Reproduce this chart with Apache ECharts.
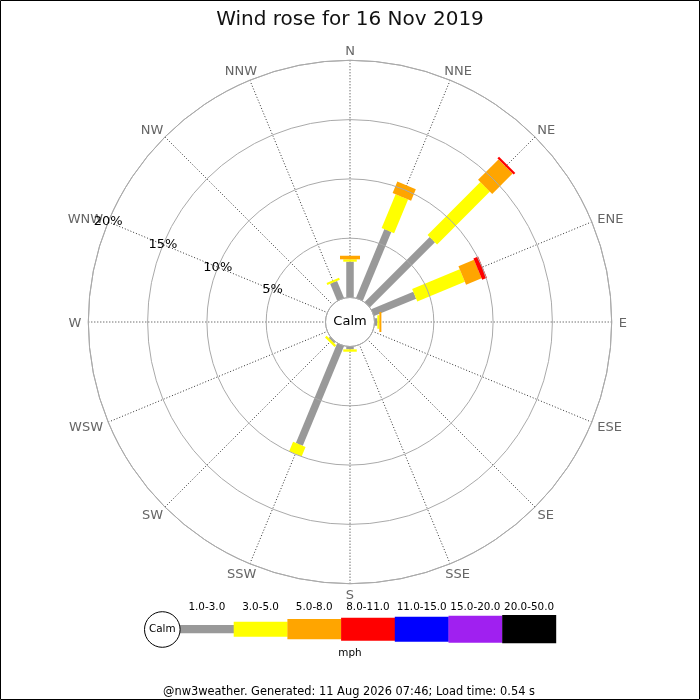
<!DOCTYPE html>
<html>
<head>
<meta charset="utf-8">
<script src="https://cdn.jsdelivr.net/npm/echarts@6/dist/echarts.min.js"></script>
<style>html,body{margin:0;padding:0;background:#fff}#c{width:700px;height:700px}</style>
</head>
<body>
<div id="c"></div>
<script>
// ---- data ----
const directions = ['N','NNE','NE','ENE','E','ESE','SE','SSE','S','SSW','SW','WSW','W','WNW','NW','NNW'];
const radiusTicks = [5, 10, 15, 20];
const binLabels = ['1.0-3.0','3.0-5.0','5.0-8.0','8.0-11.0','11.0-15.0','15.0-20.0','20.0-50.0'];
// percentage of time per direction, per speed bin (mph)
const speed_1_3   = [3.02, 6.28, 7.75, 3.84, 0.24, 0, 0, 0, 0.24, 9.10, 0.15, 0, 0, 0, 0, 1.55];
const speed_3_5   = [0.20, 3.08, 6.30, 4.34, 0.17, 0, 0, 0, 0.20, 0.87, 0.20, 0, 0, 0, 0, 0.18];
const speed_5_8   = [0.30, 1.04, 2.43, 1.42, 0.17, 0, 0, 0, 0,    0,    0,    0, 0, 0, 0, 0];
const speed_8_11  = [0,    0,    0.20, 0.43, 0,    0, 0, 0, 0,    0,    0,    0, 0, 0, 0, 0];
const speed_11_15 = [0,0,0,0,0,0,0,0,0,0,0,0,0,0,0,0];
const speed_15_20 = [0,0,0,0,0,0,0,0,0,0,0,0,0,0,0,0];
const speed_20_50 = [0,0,0,0,0,0,0,0,0,0,0,0,0,0,0,0];
const bins = [speed_1_3, speed_3_5, speed_5_8, speed_8_11, speed_11_15, speed_15_20, speed_20_50];

// ---- styles ----
const binColors = ['#999999','#ffff00','#ffa500','#ff0000','#0000ff','#a020f0','#000000'];
const barWidths = [7.5, 13.5, 20, 23, 25, 27, 29];
const legendWidths = [8.3, 15, 20.3, 23, 25, 27, 28.3];
const FONT = 'DejaVu Sans';

// angle axis: value in compass degrees, starting at WNW (292.5) so radius labels lie along WNW
const ANG_MIN = 292.5;
function dirAngle(i){ let a = i * 22.5; if (a < ANG_MIN) a += 360; return a; }

const series = [];
const cum = directions.map(() => 0);
bins.forEach((vals, b) => {
  const data = [];
  vals.forEach((v, i) => {
    const s = cum[i], e = cum[i] + v;
    cum[i] = e;
    if (v > 0) data.push([s, dirAngle(i), e]);
  });
  const w = barWidths[b], col = binColors[b];
  series.push({
    type: 'custom',
    coordinateSystem: 'polar',
    name: binLabels[b],
    silent: true,
    animation: false,
    data: data,
    renderItem: function(params, api){
      const s = api.value(0), a = api.value(1), e = api.value(2);
      const p0 = api.coord([s, a]), p1 = api.coord([e, a]);
      const q0 = api.coord([0, a]), q1 = api.coord([20, a]);
      let dx = q1[0]-q0[0], dy = q1[1]-q0[1];
      const L = Math.hypot(dx, dy); dx /= L; dy /= L;
      const nx = -dy * w / 2, ny = dx * w / 2;
      return {
        type: 'polygon',
        shape: { points: [[p0[0]+nx,p0[1]+ny],[p1[0]+nx,p1[1]+ny],[p1[0]-nx,p1[1]-ny],[p0[0]-nx,p0[1]-ny]] },
        style: { fill: col }
      };
    }
  });
});

// direction labels placed just outside the outer ring
const measureCtx = document.createElement('canvas').getContext('2d');
measureCtx.font = '13px "DejaVu Sans"';
series.push({
  type: 'custom',
  coordinateSystem: 'polar',
  silent: true,
  animation: false,
  data: directions.map((d, i) => [20, dirAngle(i), i]),
  renderItem: function(params, api){
    const a = api.value(1), idx = api.value(2);
    const txt = directions[idx];
    const p = api.coord([20, a]);
    const q0 = api.coord([0, a]);
    let dx = p[0]-q0[0], dy = p[1]-q0[1];
    const L = Math.hypot(dx, dy); dx /= L; dy /= L;
    const w = measureCtx.measureText(txt).width;
    return {
      type: 'text',
      x: p[0] + dx * (w / 2 + 7),
      y: p[1] + dy * (6.5 + 4) + 1.5,
      style: { text: txt, font: '13px "DejaVu Sans"', fill: '#666', align: 'center', verticalAlign: 'middle' }
    };
  }
});

// ---- legend graphics ----
const graphic = [
  { type: 'rect', shape: { x: 0.5, y: 0.5, width: 699, height: 699 }, style: { fill: 'none', stroke: '#000', lineWidth: 1 }, z: 100 },
  { type: 'text', x: 350, y: 322, style: { text: 'Calm', font: '13px "DejaVu Sans"', fill: '#000', align: 'center', verticalAlign: 'middle' }, z: 100 },
  { type: 'circle', shape: { cx: 162.3, cy: 629.5, r: 17.8 }, style: { fill: '#fff', stroke: '#000', lineWidth: 1 }, z: 101 },
  { type: 'text', x: 162.3, y: 629.5, style: { text: 'Calm', font: '10.4px "DejaVu Sans"', fill: '#000', align: 'center', verticalAlign: 'middle' }, z: 102 },
  { type: 'text', x: 350, y: 653.5, style: { text: 'mph', font: '10.4px "DejaVu Sans"', fill: '#000', align: 'center', verticalAlign: 'middle' } },
  { type: 'text', x: 349, y: 692.5, style: { text: '@nw3weather. Generated: 11 Aug 2026 07:46; Load time: 0.54 s', font: '11.4px "DejaVu Sans"', fill: '#000', align: 'center', verticalAlign: 'middle' } }
];
const LX0 = 180, LW = 53.7, LCY = 629.2;
binLabels.forEach((lab, b) => {
  const h = legendWidths[b];
  graphic.push({ type: 'rect', shape: { x: LX0 + b*LW, y: LCY - h/2, width: LW + 0.3, height: h }, style: { fill: binColors[b] }, z: 50 });
  graphic.push({ type: 'text', x: LX0 + b*LW + LW/2, y: 607, style: { text: lab, font: '10.4px "DejaVu Sans"', fill: '#000', align: 'center', verticalAlign: 'middle' } });
});

const chart = echarts.init(document.getElementById('c'), null, { renderer: 'canvas' });
chart.setOption({
  backgroundColor: '#fff',
  animation: false,
  textStyle: { fontFamily: FONT },
  title: {
    text: 'Wind rose for 16 Nov 2019',
    left: 'center', top: 5,
    textStyle: { fontFamily: FONT, fontSize: 20, fontWeight: 'normal', color: '#111' }
  },
  polar: { center: [350, 322], radius: [24.5, 261.7] },
  angleAxis: {
    type: 'value',
    min: ANG_MIN, max: ANG_MIN + 360, interval: 22.5,
    startAngle: 157.5, clockwise: true,
    axisLine: { show: true, lineStyle: { color: '#aaaaaa', width: 1 } },
    axisTick: { show: false },
    axisLabel: { show: false },
    splitLine: { show: true, lineStyle: { type: [1, 2], color: '#333', width: 1 } }
  },
  radiusAxis: {
    type: 'value', min: 0, max: 20, interval: 5,
    axisLine: { show: false }, axisTick: { show: false },
    axisLabel: {
      margin: 0, color: '#000', fontSize: 13, fontFamily: FONT,
      align: 'center', verticalAlign: 'middle',
      formatter: function(v){ return radiusTicks.indexOf(v) >= 0 ? v + '%' : ''; }
    },
    splitLine: { show: true, lineStyle: { color: '#aaaaaa', width: 1 } },
    z: 10
  },
  series: series,
  graphic: graphic
});
</script>
</body>
</html>
